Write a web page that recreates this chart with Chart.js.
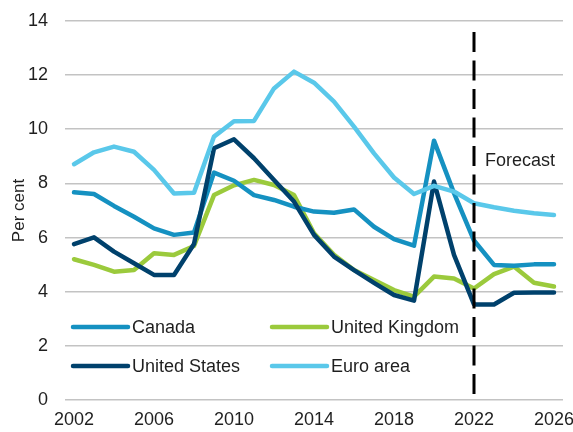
<!DOCTYPE html>
<html>
<head>
<meta charset="utf-8">
<script src="https://cdn.jsdelivr.net/npm/chart.js@4"></script>
<style>
  html, body { margin: 0; padding: 0; background: #fff; }
  #wrap { width: 573px; height: 432px; }
</style>
</head>
<body>
<div id="wrap"><canvas id="chart" width="573" height="432"></canvas></div>
<script>
const years = [2002, 2003, 2004, 2005, 2006, 2007, 2008, 2009, 2010, 2011, 2012, 2013, 2014,
               2015, 2016, 2017, 2018, 2019, 2020, 2021, 2022, 2023, 2024, 2025, 2026];
const canada = [7.67, 7.61, 7.17, 6.77, 6.34, 6.10, 6.19, 8.40, 8.10, 7.57, 7.39, 7.14, 6.96,
                6.92, 7.04, 6.40, 5.94, 5.70, 9.58, 7.64, 5.89, 4.99, 4.96, 5.01, 5.01];
const unitedKingdom = [5.20, 4.99, 4.74, 4.80, 5.42, 5.36, 5.69, 7.57, 7.93, 8.13, 7.94, 7.57, 6.16,
                       5.36, 4.80, 4.43, 4.06, 3.82, 4.56, 4.49, 4.12, 4.65, 4.93, 4.33, 4.19];
const unitedStates = [5.76, 6.01, 5.48, 5.05, 4.62, 4.62, 5.76, 9.30, 9.63, 8.93, 8.13, 7.33, 6.10,
                      5.30, 4.80, 4.33, 3.88, 3.67, 8.07, 5.36, 3.53, 3.53, 3.96, 3.97, 3.97];
const euroArea = [8.71, 9.15, 9.36, 9.17, 8.50, 7.63, 7.66, 9.73, 10.30, 10.31, 11.51, 12.13, 11.72,
                  11.02, 10.10, 9.11, 8.22, 7.61, 7.91, 7.70, 7.27, 7.12, 6.99, 6.90, 6.83];
const xTicks = [2002, 2006, 2010, 2014, 2018, 2022, 2026];
const forecastYear = 2022;

const FONT = 'Liberation Sans, Arial, sans-serif';
const TEXT = '#1f1f1f';

const series = [
    { label: 'Canada', data: canada, color: '#1591c1', order: 2 },
    { label: 'United Kingdom', data: unitedKingdom, color: '#9bca3c', order: 3 },
    { label: 'United States', data: unitedStates, color: '#00416c', order: 1 },
    { label: 'Euro area', data: euroArea, color: '#5ac8ea', order: 0 }
];

// legend drawn inside the plot, two columns
const legendPlugin = {
    id: 'insideLegend',
    afterDatasetsDraw(chart) {
        const c = chart.ctx;
        const cols = [73, 272];
        const rows = [327, 366];
        c.save();
        c.font = '18px ' + FONT;
        c.textBaseline = 'middle';
        series.forEach((s, i) => {
            const x = cols[i % 2];
            const y = rows[Math.floor(i / 2)];
            c.strokeStyle = s.color;
            c.lineWidth = 4.5;
            c.lineCap = 'round';
            c.beginPath();
            c.moveTo(x, y);
            c.lineTo(x + 55, y);
            c.stroke();
            c.fillStyle = TEXT;
            c.fillText(s.label, x + 59, y + 1);
        });
        c.restore();
    }
};

const forecastPlugin = {
    id: 'forecastLine',
    afterDatasetsDraw(chart) {
        const c = chart.ctx;
        const x = chart.scales.x.getPixelForValue(forecastYear);
        const area = chart.chartArea;
        c.save();
        c.strokeStyle = '#000';
        c.lineWidth = 3;
        c.setLineDash([20, 8.5]);
        c.beginPath();
        c.moveTo(x, area.top + 11);
        c.lineTo(x, area.bottom + 1);
        c.stroke();
        c.setLineDash([]);
        c.fillStyle = TEXT;
        c.font = '18px ' + FONT;
        c.textBaseline = 'middle';
        c.fillText('Forecast', x + 11, 161);
        c.restore();
    }
};

new Chart(document.getElementById('chart'), {
    type: 'line',
    data: {
        datasets: series.map(s => ({
            label: s.label,
            data: years.map((yr, i) => ({ x: yr, y: s.data[i] })),
            borderColor: s.color,
            backgroundColor: s.color,
            borderWidth: 4.5,
            borderJoinStyle: 'round',
            borderCapStyle: 'round',
            pointRadius: 0,
            tension: 0,
            order: s.order
        }))
    },
    options: {
        responsive: false,
        animation: false,
        events: [],
        layout: { padding: { top: 21, right: 10, left: 9, bottom: 0 } },
        plugins: {
            legend: { display: false },
            tooltip: { enabled: false }
        },
        scales: {
            x: {
                type: 'linear',
                min: 2001.55,
                max: 2026.45,
                afterBuildTicks: axis => { axis.ticks = xTicks.map(v => ({ value: v })); },
                afterFit: axis => { axis.height = 32; axis.paddingLeft = 0; axis.paddingRight = 0; },
                grid: { display: false, drawTicks: false },
                border: { display: false },
                ticks: {
                    color: TEXT,
                    font: { family: FONT, size: 18 },
                    padding: 9,
                    maxRotation: 0,
                    autoSkip: false,
                    callback: v => String(v)
                }
            },
            y: {
                min: 0,
                max: 14,
                afterFit: axis => { axis.width = 56; axis.paddingTop = 0; axis.paddingBottom = 0; },
                grid: { color: '#c3c3c3', lineWidth: 1.6, drawTicks: false },
                border: { display: false },
                ticks: {
                    stepSize: 2,
                    color: TEXT,
                    font: { family: FONT, size: 18 },
                    padding: 17
                },
                title: {
                    display: true,
                    text: 'Per cent',
                    color: TEXT,
                    font: { family: FONT, size: 17 },
                    padding: { top: 0, bottom: 0 }
                }
            }
        }
    },
    plugins: [legendPlugin, forecastPlugin]
});
</script>
</body>
</html>
